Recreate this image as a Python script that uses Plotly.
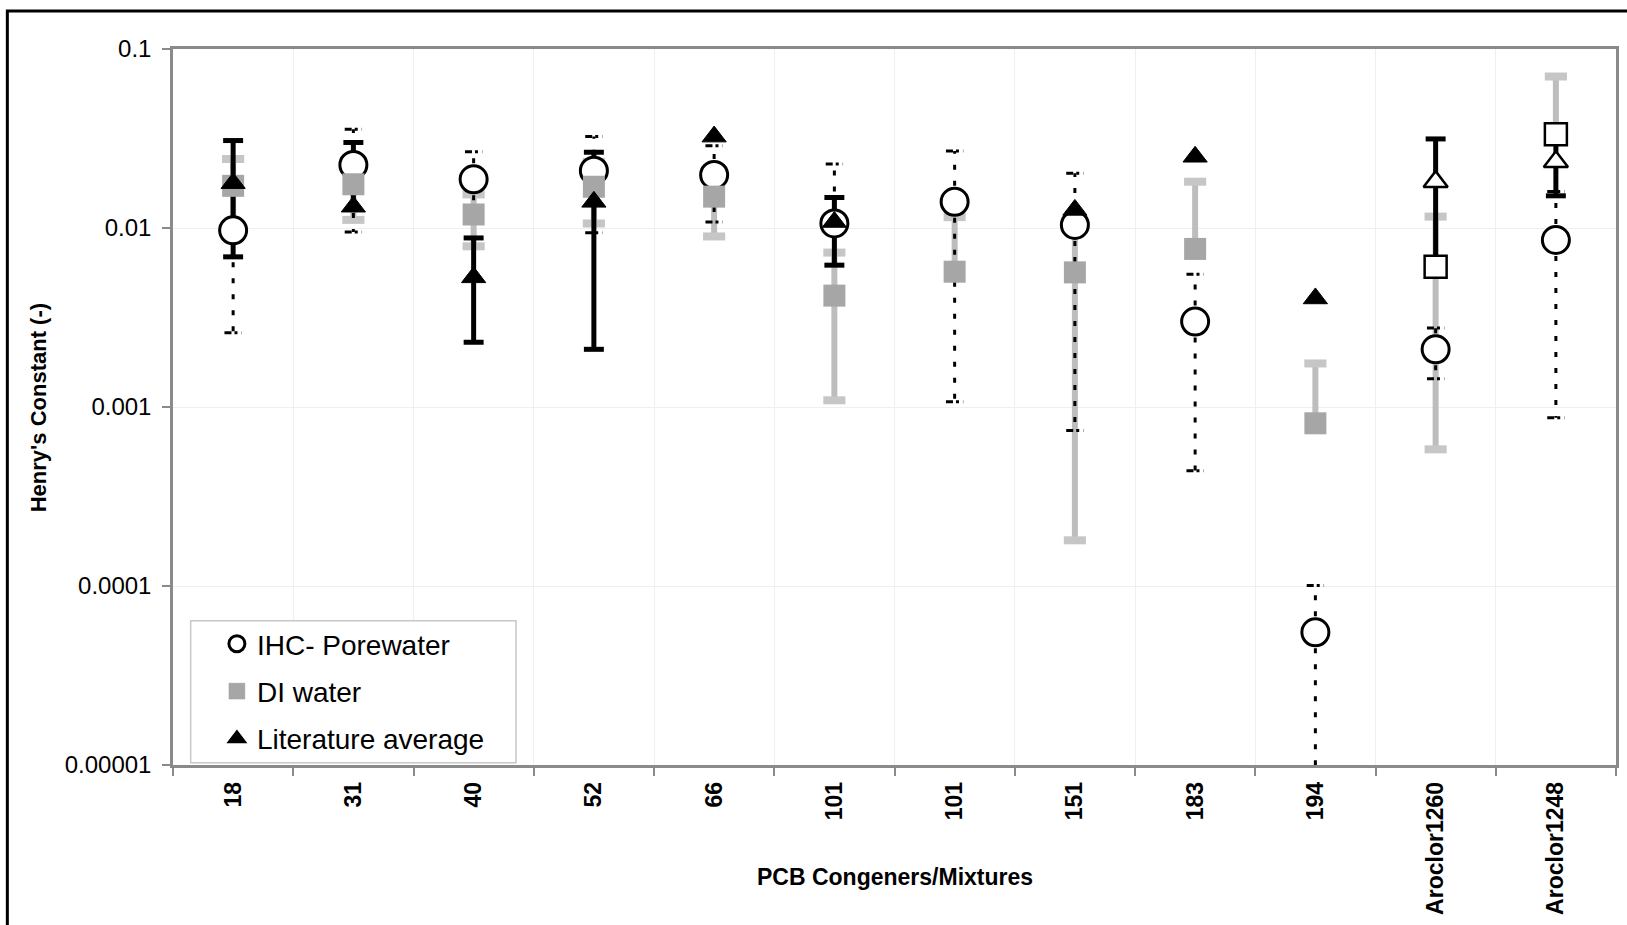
import plotly.graph_objects as go

# PCB congeners / Aroclor mixtures along the x axis
categories = ["18", "31", "40", "52", "66", "101", "101", "151", "183", "194",
              "Aroclor1260", "Aroclor1248"]

# IHC - porewater (open circles, dashed error bars)
ihc_value = [0.0097, 0.0225, 0.0187, 0.0209, 0.0198, 0.0106, 0.0140, 0.0104,
             0.0030, 0.0000551, 0.0021, 0.00857]
ihc_err_plus = [0.0071, 0.0131, 0.0080, 0.0115, 0.0090, 0.0122, 0.0129, 0.0098,
                0.00251, 0.0000454, 0.00066, 0.0074]
ihc_err_minus = [0.0071, 0.0130, 0.0080, 0.0115, 0.0090, 0.0122, 0.01293, 0.00966,
                 0.00256, 0.0000458, 0.00066, 0.0077]

# DI water (grey squares, hatched error bars)
di_value = [0.0172, 0.01755, 0.0119, 0.0170, 0.01497, 0.00419, 0.0057, 0.00565,
            0.00764, 0.000811, 0.00608, 0.0334]
di_err_plus = [0.0071, 0.00645, 0.0035, 0.0064, 0.0060, 0.0031, 0.0058, 0.00547,
               0.0105, 0.00094, 0.0055, 0.0368]
di_err_minus = [0.0071, 0.00645, 0.0040, 0.0064, 0.0060, 0.0031, 0.0058, 0.00547,
                0.0105, 0.00094, 0.0055, 0.0368]

# Literature average (black triangles, solid error bars)
lit_value = [0.0178, 0.01315, 0.0053, 0.0140, 0.0324, 0.0108, None, 0.01262,
             0.0250, 0.00404, 0.01815, 0.02343]
lit_err_plus = [0.0130, 0.0169, 0.0035, 0.0125, 0, 0.0040, None, 0,
                0, 0, 0.0133, 0.0083]
lit_err_minus = [0.0109, 0.0169, 0.0030, 0.0119, 0, 0.0046, None, 0,
                 0, 0, 0.0117, 0.0083]

y_tick_vals = [0.00001, 0.0001, 0.001, 0.01, 0.1]
y_tick_text = ["0.00001", "0.0001", "0.001", "0.01", "0.1"]

FONT = "Liberation Sans, Arial, sans-serif"
AXIS_GREY = "#8a8a8a"
GRID = "#efefef"

x_pos = list(range(len(categories)))
is_mix = [c.startswith("Aroclor") for c in categories]


def error_paths(values, plus, minus, half):
    """Vertical stems and horizontal caps for error bars on a log axis.
    Lower ends that would fall at or below zero are left out."""
    sx, sy, cx, cy = [], [], [], []
    for i, (v, p, m) in enumerate(zip(values, plus, minus)):
        if v is None:
            continue
        if p:
            sx += [i, i, None]
            sy += [v, v + p, None]
            cx += [i - half, i + half, None]
            cy += [v + p, v + p, None]
        if m and v - m > 0:
            sx += [i, i, None]
            sy += [v, v - m, None]
            cx += [i - half, i + half, None]
            cy += [v - m, v - m, None]
    return sx, sy, cx, cy


fig = go.Figure()

# --- error bars (drawn beneath the markers) ---
sx, sy, cx, cy = error_paths(di_value, di_err_plus, di_err_minus, 0.092)
fig.add_trace(go.Scatter(x=sx, y=sy, mode="lines", showlegend=False, hoverinfo="skip",
                         line=dict(color="#bdbdbd", width=6)))
fig.add_trace(go.Scatter(x=cx, y=cy, mode="lines", showlegend=False, hoverinfo="skip",
                         line=dict(color="#c6c6c6", width=8)))

sx, sy, cx, cy = error_paths(ihc_value, ihc_err_plus, ihc_err_minus, 0.072)
fig.add_trace(go.Scatter(x=sx, y=sy, mode="lines", showlegend=False, hoverinfo="skip",
                         line=dict(color="black", width=3, dash="5px,11px")))
fig.add_trace(go.Scatter(x=cx, y=cy, mode="lines", showlegend=False, hoverinfo="skip",
                         line=dict(color="black", width=3, dash="7px,3px,3px,4px,2px")))

sx, sy, cx, cy = error_paths(lit_value, lit_err_plus, lit_err_minus, 0.083)
fig.add_trace(go.Scatter(x=sx, y=sy, mode="lines", showlegend=False, hoverinfo="skip",
                         line=dict(color="black", width=5)))
fig.add_trace(go.Scatter(x=cx, y=cy, mode="lines", showlegend=False, hoverinfo="skip",
                         line=dict(color="black", width=5)))

# --- markers ---
fig.add_trace(go.Scatter(
    x=x_pos, y=ihc_value, mode="markers", name="IHC- Porewater",
    legendgroup="a",
    marker=dict(symbol="circle", size=27, color="white",
                line=dict(color="black", width=3)),
))
fig.add_trace(go.Scatter(
    x=x_pos, y=di_value, mode="markers", name="DI water",
    legendgroup="b",
    marker=dict(symbol="square", size=22,
                color=["white" if m else "#a6a6a6" for m in is_mix],
                line=dict(color=["black" if m else "#a6a6a6" for m in is_mix],
                          width=[2.5 if m else 0 for m in is_mix])),
))
fig.add_trace(go.Scatter(
    x=x_pos, y=lit_value, mode="markers", name="Literature average",
    legendgroup="c",
    marker=dict(symbol="triangle-up", size=21,
                color=["white" if m else "black" for m in is_mix],
                line=dict(color="black", width=[2.5 if m else 1 for m in is_mix])),
))

# plot-area geometry in pixels, used to place the legend frame and titles
W, H = 1627, 925
L, R, T, B = 173, 8, 49, 160
pw, ph = W - L - R, H - T - B


def px_x(x):
    return (x - L) / pw


def px_y(y):
    return (H - B - y) / ph


fig.update_layout(
    width=W, height=H, autosize=False,
    margin=dict(l=L, r=R, t=T, b=B, pad=0),
    paper_bgcolor="white", plot_bgcolor="white",
    font=dict(family=FONT, color="black"),
    showlegend=True,
    legend=dict(x=px_x(217), y=px_y(619), xanchor="left", yanchor="top",
                bgcolor="rgba(0,0,0,0)", borderwidth=0,
                font=dict(size=28, family=FONT, color="black"),
                tracegroupgap=8, itemwidth=30),
    xaxis=dict(
        range=[-0.5, len(categories) - 0.5],
        tickmode="array", tickvals=x_pos, ticktext=categories,
        tickangle=-90, ticks="", showgrid=False, zeroline=False,
        ticklabelstandoff=5,
        tickfont=dict(size=23, family=FONT, color="black", weight="bold"),
        showline=True, linecolor=AXIS_GREY, linewidth=2.5, mirror=True,
        minor=dict(tickmode="linear", tick0=-0.5, dtick=1, ticks="outside",
                   ticklen=8, tickcolor=AXIS_GREY, tickwidth=1.5,
                   showgrid=True, gridcolor=GRID, gridwidth=1),
    ),
    yaxis=dict(
        type="log", range=[-5, -1],
        tickmode="array", tickvals=y_tick_vals, ticktext=y_tick_text,
        ticks="outside", ticklen=8, tickcolor=AXIS_GREY, tickwidth=1.5,
        ticklabelstandoff=6,
        tickfont=dict(size=24, family=FONT, color="black"),
        showgrid=True, gridcolor=GRID, gridwidth=1, zeroline=False,
        showline=True, linecolor=AXIS_GREY, linewidth=2.5, mirror=True,
    ),
    shapes=[
        # legend frame
        dict(type="rect", xref="paper", yref="paper",
             x0=px_x(190.7), x1=px_x(516.7), y0=px_y(762.7), y1=px_y(620.7),
             line=dict(color="#c8c8c8", width=1.5), fillcolor="white", layer="above"),
        # outer chart frame
        dict(type="rect", xref="paper", yref="paper",
             x0=px_x(7), x1=px_x(1640), y0=px_y(940), y1=px_y(11),
             line=dict(color="black", width=3), fillcolor="rgba(0,0,0,0)", layer="above"),
    ],
    annotations=[
        dict(text="PCB Congeners/Mixtures", xref="paper", yref="paper",
             x=0.5, y=px_y(877), xanchor="center", yanchor="middle", showarrow=False,
             font=dict(size=23, family=FONT, color="black", weight="bold")),
        dict(text="Henry's Constant (-)", xref="paper", yref="paper",
             x=px_x(38), y=px_y(408), xanchor="center", yanchor="middle", showarrow=False,
             textangle=-90,
             font=dict(size=22, family=FONT, color="black", weight="bold")),
    ],
)

fig.write_html("out.html")
